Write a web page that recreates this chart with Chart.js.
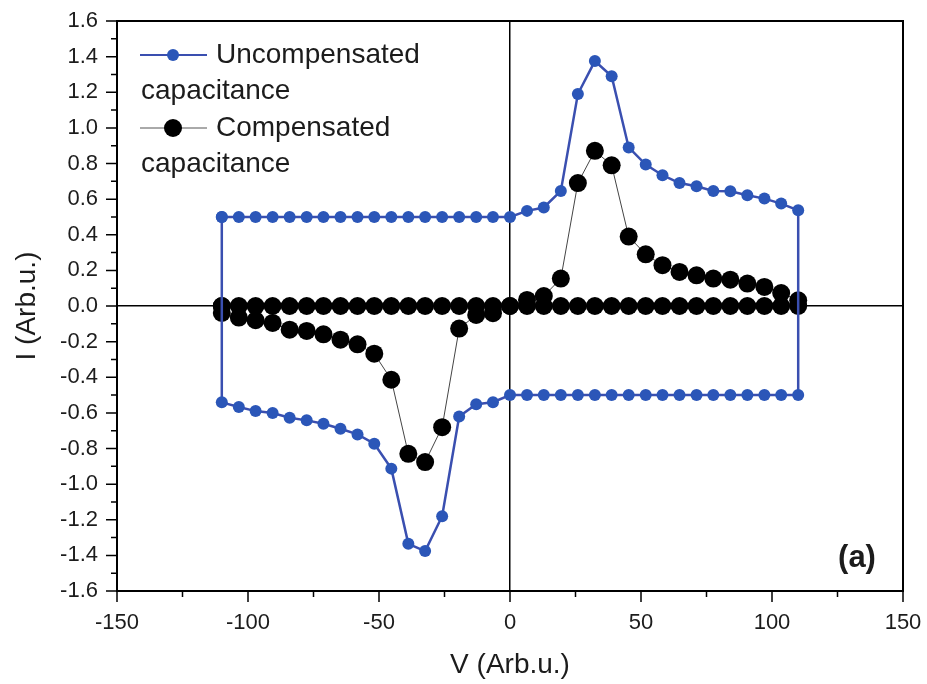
<!DOCTYPE html>
<html>
<head>
<meta charset="utf-8">
<script src="https://cdn.jsdelivr.net/npm/chart.js@4.4.1/dist/chart.umd.min.js"></script>
<style>
  html, body { margin: 0; padding: 0; background: #fff; }
  #chart { display: block; }
</style>
</head>
<body>
<canvas id="chart" width="927" height="684"></canvas>
<script>
"use strict";

// voltage steps of one sweep
const vSweep = [-110, -103.5, -97.1, -90.6, -84.1, -77.6, -71.2, -64.7, -58.2, -51.8, -45.3, -38.8,
  -32.4, -25.9, -19.4, -12.9, -6.5, 0, 6.5, 12.9, 19.4, 25.9, 32.4, 38.8, 45.3, 51.8, 58.2,
  64.7, 71.2, 77.6, 84.1, 90.6, 97.1, 103.5, 110];

// uncompensated capacitance, forward sweep (-110 -> 110) and return sweep, per vSweep
const uncompForward = [0.5, 0.5, 0.5, 0.5, 0.5, 0.5, 0.5, 0.5, 0.5, 0.5, 0.5, 0.5,
  0.5, 0.5, 0.5, 0.5, 0.5, 0.5, 0.534, 0.553, 0.646, 1.19, 1.375, 1.29, 0.89, 0.794, 0.734,
  0.69, 0.672, 0.646, 0.644, 0.622, 0.603, 0.575, 0.537];
const uncompReturn = [-0.541, -0.567, -0.59, -0.601, -0.627, -0.642, -0.661, -0.689, -0.721, -0.773, -0.913, -1.335,
  -1.376, -1.18, -0.62, -0.552, -0.54, -0.5, -0.5, -0.5, -0.5, -0.5, -0.5, -0.5, -0.5, -0.5, -0.5,
  -0.5, -0.5, -0.5, -0.5, -0.5, -0.5, -0.5, -0.5];

// compensated capacitance
const compForward = [0, 0, 0, 0, 0, 0, 0, 0, 0, 0, 0, 0,
  0, 0, 0, 0, 0, 0, 0.034, 0.056, 0.154, 0.69, 0.871, 0.79, 0.39, 0.29, 0.229,
  0.191, 0.172, 0.154, 0.148, 0.126, 0.107, 0.073, 0.032];
const compReturn = [-0.039, -0.065, -0.08, -0.095, -0.133, -0.14, -0.159, -0.189, -0.215, -0.268, -0.414, -0.83,
  -0.876, -0.68, -0.127, -0.05, -0.04, 0, 0, 0, 0, 0, 0, 0, 0, 0, 0,
  0, 0, 0, 0, 0, 0, 0, 0];

const seriesNames = ["Uncompensated capacitance", "Compensated capacitance"];
const xTickLabels = [-150, -100, -50, 0, 50, 100, 150];
const yTickLabels = [-1.6, -1.4, -1.2, -1.0, -0.8, -0.6, -0.4, -0.2, 0, 0.2, 0.4, 0.6, 0.8, 1.0, 1.2, 1.4, 1.6];

const FONT = '"Liberation Sans", Arial, sans-serif';
const TEXT = "#1c1c1c";

// forward sweep, then back along the return sweep, then close the loop
function loop(forward, back) {
  const pts = forward.map((y, i) => ({ x: vSweep[i], y: y }));
  for (let i = back.length - 1; i >= 0; i--) pts.push({ x: vSweep[i], y: back[i] });
  pts.push({ x: vSweep[0], y: forward[0] });
  return pts;
}

const isMajor = (v, list) => list.some(t => Math.abs(t - v) < 1e-6);

const extras = {
  id: "extras",
  afterDraw(chart) {
    const ctx = chart.ctx;
    const a = chart.chartArea;
    const xs = chart.scales.x, ys = chart.scales.y;
    ctx.save();
    ctx.strokeStyle = "#000";
    // frame
    ctx.lineWidth = 2;
    ctx.strokeRect(a.left, a.top, a.right - a.left, a.bottom - a.top);
    // tick marks, major and minor
    ctx.lineWidth = 1.5;
    ctx.beginPath();
    xs.ticks.forEach(t => {
      const px = xs.getPixelForValue(t.value);
      const len = isMajor(t.value, xTickLabels) ? 11 : 6;
      ctx.moveTo(px, a.bottom);
      ctx.lineTo(px, a.bottom + len);
    });
    ys.ticks.forEach(t => {
      const py = ys.getPixelForValue(t.value);
      const len = isMajor(t.value, yTickLabels) ? 11 : 6;
      ctx.moveTo(a.left, py);
      ctx.lineTo(a.left - len, py);
    });
    ctx.stroke();

    // legend
    const items = [
      { color: "#3a4fb0", fill: "#2b56b8", width: 2, r: 6, y: a.top + 34 },
      { color: "#555", fill: "#000", width: 1, r: 9, y: a.top + 107 }
    ];
    ctx.font = "28px " + FONT;
    ctx.textBaseline = "middle";
    items.forEach((it, i) => {
      const x0 = a.left + 23;
      ctx.strokeStyle = it.color;
      ctx.lineWidth = it.width;
      ctx.beginPath();
      ctx.moveTo(x0, it.y);
      ctx.lineTo(x0 + 67, it.y);
      ctx.stroke();
      ctx.beginPath();
      ctx.arc(x0 + 33, it.y, it.r, 0, Math.PI * 2);
      ctx.fillStyle = it.fill;
      ctx.fill();
      ctx.fillStyle = TEXT;
      ctx.textAlign = "left";
      ctx.fillText(seriesNames[i].split(" ")[0], x0 + 76, it.y);
      ctx.fillText(seriesNames[i].split(" ")[1], x0 + 1, it.y + 36);
    });

    // panel label
    ctx.font = "bold 31px " + FONT;
    ctx.textAlign = "center";
    ctx.fillText("(a)", a.right - 46, a.bottom - 33);
    ctx.restore();
  }
};

const ctx = document.getElementById("chart").getContext("2d");
const chart = new Chart(ctx, {
  type: "scatter",
  data: {
    datasets: [
      {
        label: seriesNames[0],
        data: loop(uncompForward, uncompReturn),
        showLine: true,
        borderColor: "#3a4fb0",
        borderWidth: 2.5,
        backgroundColor: "#2b56b8",
        pointBackgroundColor: "#2b56b8",
        pointBorderWidth: 0,
        pointRadius: 6,
        tension: 0
      },
      {
        label: seriesNames[1],
        data: loop(compForward, compReturn),
        showLine: true,
        borderColor: "#444",
        borderWidth: 1,
        backgroundColor: "#000",
        pointBackgroundColor: "#000",
        pointBorderWidth: 0,
        pointRadius: 9,
        tension: 0
      }
    ]
  },
  options: {
    responsive: false,
    animation: false,
    layout: { padding: { left: 0, top: 21, right: 24, bottom: 0 } },
    plugins: { legend: { display: false }, tooltip: { enabled: false } },
    scales: {
      x: {
        type: "linear",
        min: -150,
        max: 150,
        afterFit(scale) {
          scale.height = 93;
          scale.paddingLeft = 0;
          scale.paddingRight = 0;
        },
        ticks: {
          stepSize: 25,
          autoSkip: false,
          maxRotation: 0,
          padding: 19,
          color: TEXT,
          font: { family: FONT, size: 22 },
          callback: v => isMajor(v, xTickLabels) ? String(v) : ""
        },
        grid: {
          drawTicks: false,
          lineWidth: 1.5,
          color: c => (c.tick && c.tick.value === 0 ? "#000" : "rgba(0,0,0,0)")
        },
        border: { display: false },
        title: {
          display: true,
          text: "V (Arb.u.)",
          color: TEXT,
          font: { family: FONT, size: 28 },
          padding: { top: 0, bottom: 2 }
        }
      },
      y: {
        type: "linear",
        min: -1.6,
        max: 1.6,
        afterFit(scale) {
          scale.width = 117;
          scale.paddingTop = 0;
          scale.paddingBottom = 0;
        },
        ticks: {
          stepSize: 0.1,
          autoSkip: false,
          padding: 19,
          color: TEXT,
          font: { family: FONT, size: 22 },
          callback: v => isMajor(v, yTickLabels) ? v.toFixed(1) : ""
        },
        grid: {
          drawTicks: false,
          lineWidth: 1.5,
          color: c => (c.tick && Math.abs(c.tick.value) < 1e-9 ? "#000" : "rgba(0,0,0,0)")
        },
        border: { display: false },
        title: {
          display: true,
          text: "I (Arb.u.)",
          color: TEXT,
          font: { family: FONT, size: 28 },
          padding: { top: 10, bottom: 0 }
        }
      }
    }
  },
  plugins: [extras]
});
</script>
</body>
</html>
